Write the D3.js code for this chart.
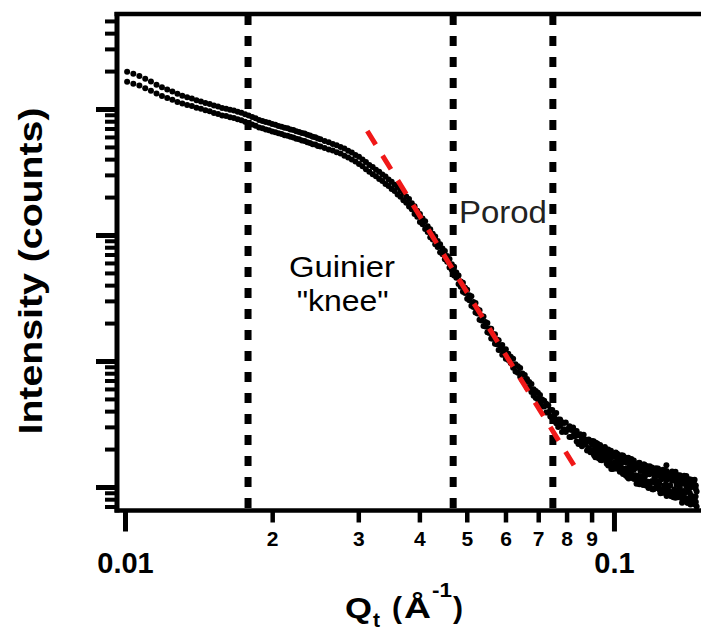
<!DOCTYPE html>
<html>
<head>
<meta charset="utf-8">
<script src="https://cdn.jsdelivr.net/npm/d3@7"></script>
<style>
  html, body { margin: 0; padding: 0; background: #fff; }
  svg { display: block; }
</style>
</head>
<body>
<div id="chart"></div>
<script>
// ---------------- DATA ----------------
// Scattering vector Q_t (1/Å), shared by both measured curves
const q = [
  0.0101,0.0104,0.0107,0.0110,0.0113,0.0116,0.0119,0.0122,0.0125,0.0128,
  0.0131,0.0134,0.0137,0.0140,0.0143,0.0146,0.0149,0.0152,0.0155,0.0158,
  0.0161,0.0164,0.0167,0.0170,0.0173,0.0176,0.0179,0.0182,0.0185,0.0188,
  0.0191,0.0194,0.0197,0.0200,0.0203,0.0206,0.0209,0.0212,0.0215,0.0218,
  0.0221,0.0224,0.0227,0.0230,0.0233,0.0236,0.0239,0.0242,0.0245,0.0248,
  0.0251,
  0.0256,0.0261,0.0266,0.0271,0.0276,0.0281,0.0286,0.0291,0.0296,0.0301,
  0.0306,0.0311,0.0316,0.0321,0.0326,0.0331,0.0336,0.0341,0.0346,0.0351,
  0.0356,0.0361,0.0366,0.0371,0.0376,0.0381,0.0386,0.0391,0.0396,0.0401,
  0.0406,0.0411,0.0416,0.0421,0.0426,0.0431,0.0436,0.0441,0.0446,0.0451,
  0.0456,0.0461,0.0466,0.0471,0.0476,0.0481,0.0486,0.0491,0.0496,0.0501,
  0.0506,0.0511,0.0516,0.0521,0.0526,0.0531,0.0536,0.0541,0.0546,0.0551,
  0.0556,0.0561,0.0566,0.0571,0.0576,0.0581,0.0586,0.0591,0.0596,0.0601,
  0.0608,0.0615,0.0622,0.0629,0.0636,0.0643,0.0650,0.0657,0.0664,0.0671,
  0.0678,0.0685,0.0692,0.0699,0.0706,0.0713,0.0720,0.0727,0.0734,0.0741,
  0.0748,0.0755,0.0762,0.0769,0.0776,0.0783,0.0790,0.0797,0.0804,0.0811,
  0.0818,0.0825,0.0832,0.0839,0.0846,0.0853,0.0860,0.0867,0.0874,0.0881,
  0.0888,0.0895,0.0902,0.0909,0.0916,0.0923,0.0930,0.0937,0.0944,0.0951,
  0.0958,0.0965,0.0972,0.0979,0.0986,0.0993,0.1000,0.1007,0.1014,0.1021,
  0.1028,0.1035,0.1042,0.1049,0.1056,0.1063,0.1070,0.1077,0.1084,0.1091,
  0.1098,0.1105,0.1112,0.1119,0.1126,0.1133,0.1140,0.1147,0.1154,0.1161,
  0.1168,0.1175,0.1182,0.1189,0.1196,0.1203,0.1210,0.1217,0.1224,0.1231,
  0.1238,0.1245,0.1252,0.1259,0.1266,0.1273,0.1280,0.1287,0.1294,0.1301,
  0.1308,0.1315,0.1322,0.1329,0.1336,0.1343,0.1350,0.1357,0.1364,0.1371,
  0.1378,0.1385,0.1392,0.1399,0.1406,0.1413,0.1420,0.1427,0.1434,0.1441,
  0.1448,0.1455,0.1462,0.1469,0.1476
];

// Intensity (counts), upper curve
const intensityA = [
  19750,19010,18300,17370,16520,15610,14880,14270,13760,13200,
  12760,12380,12090,11740,11480,11180,10970,10670,10450,10200,
  10060,9850,9710,9490,9330,9080,8890,8630,8440,8180,
  8040,7880,7780,7610,7500,7340,7240,7110,7020,6880,
  6800,6670,6580,6450,6380,6240,6160,6030,5970,5830,
  5760,
  5570,5440,5280,5160,5000,4860,4670,4520,4320,4170,
  3970,3800,3590,3460,3290,3170,3020,2910,2760,2650,
  2500,2400,2260,2160,2020,1930,1790,1690,1560,1470,
  1355,1285,1175,1110,1025,975,895,845,780,745,
  680,645,586,560,503,478,428,418,381,368,
  333,326,294,288,258,253,228,226,204,200,
  181,180,163,163,148,146,133,134,122,124,
  114,108,104,94.3,90.7,87.8,79.6,77.5,71.9,68.1,
  65.8,59.8,57.8,56.1,53.8,49.5,48.4,45.7,44.6,41.0,
  40.8,35.4,38.7,34.3,34.4,32.6,32.2,32.5,28.7,30.3,
  28.3,29.7,25.3,27.8,25.7,26.2,24.0,26.0,21.6,23.4,
  23.8,22.7,19.7,23.1,20.4,21.6,16.9,21.5,19.3,20.1,
  16.5,18.8,19.5,16.8,19.4,17.3,15.3,17.3,18.1,15.0,
  17.5,15.5,13.1,17.3,15.9,14.1,17.1,14.6,12.3,15.3,
  16.2,12.4,14.2,15.2,11.6,13.4,14.4,10.35,15.1,12.5,
  13.7,11.0,13.7,13.9,11.1,13.0,13.9,9.8,12.3,14.0,
  10.7,13.0,11.5,9.6,13.5,12.0,14.9,9.7,12.1,12.85,
  8.55,11.2,12.4,9.6,13.2,10.4,8.55,11.7,12.4,8.9,
  10.85,12.0,7.9,10.9,12.2,9.2,11.1,8.1,9.9,11.4,
  7.5,10.3,11.4,8.4,9.2
];

// Intensity (counts), lower curve
const intensityB = [
  16480,15890,15370,14640,13990,13250,12700,12230,11850,11370,
  11060,10760,10560,10240,10030,9770,9580,9310,9130,8900,
  8790,8600,8480,8290,8150,7920,7760,7530,7370,7140,
  7030,6880,6790,6640,6550,6410,6330,6200,6130,6010,
  5940,5820,5750,5630,5570,5450,5380,5260,5220,5090,
  5030,
  4910,4780,4680,4530,4430,4260,4130,3970,3830,3660,
  3520,3330,3180,3030,2920,2780,2680,2540,2450,2320,
  2230,2100,2010,1890,1800,1680,1600,1470,1395,1270,
  1215,1115,1055,960,920,845,803,730,702,643,
  613,553,531,478,457,408,389,355,346,312,
  303,274,268,243,238,213,210,190,188,169,
  167,151,150,137,136,122,123,112,113,104,
  102,96,88.4,82.6,80.6,75.0,70.2,68.8,61.8,60.5,
  56.7,52.9,50.9,49.5,46.2,43.6,43.5,39.1,39.0,36.2,
  35.3,38.3,32.1,30.0,30.8,27.3,28.7,27.3,28.6,24.9,
  24.9,25.5,26.8,23.0,21.9,22.6,21.1,23.0,23.8,19.5,
  20.4,18.9,23.2,18.9,17.2,19.0,20.4,17.9,16.3,18.6,
  20.8,16.8,15.5,18.3,15.5,14.3,18.2,15.7,14.4,16.6,
  13.2,17.9,15.8,13.9,12.4,16.9,13.0,13.5,15.9,11.8,
  13.7,14.85,10.6,12.3,15.55,11.0,13.5,12.2,13.7,10.9,
  14.6,10.1,12.6,11.0,14.3,9.6,11.9,13.1,10.2,11.15,
  13.5,8.9,12.2,13.7,10.3,9.0,11.3,12.65,9.15,10.3,
  11.8,13.3,9.15,11.9,8.2,10.9,12.4,9.25,10.0,11.1,
  7.5,9.3,12.3,8.15,10.1,7.5,10.3,11.5,7.25,8.5,
  10.4,8.1,7.3,9.7,7.0
];

// Interleaved readings in the dense, noisy high-Q tail
const qTail = [
  0.09035,0.09105,0.09175,0.09245,0.09315,0.09385,0.09455,0.09525,0.09595,0.09665,
  0.09735,0.09805,0.09875,0.09945,0.10015,0.10085,0.10155,0.10225,0.10295,0.10365,
  0.10435,0.10505,0.10575,0.10645,0.10715,0.10785,0.10855,0.10925,0.10995,0.11065,
  0.11135,0.11205,0.11275,0.11345,0.11415,0.11485,0.11555,0.11625,0.11695,0.11765,
  0.11835,0.11905,0.11975,0.12045,0.12115,0.12185,0.12255,0.12325,0.12395,0.12465,
  0.12535,0.12605,0.12675,0.12745,0.12815,0.12885,0.12955,0.13025,0.13095,0.13165,
  0.13235,0.13305,0.13375,0.13445,0.13515,0.13585,0.13655,0.13725,0.13795,0.13865,
  0.13935,0.14005,0.14075,0.14145,0.14215,0.14285,0.14355,0.14425,0.14495,0.14565,
  0.14635,0.14705
];
const tailIntensityA = [
  21.7,17.9,22.4,18.8,20.8,16.4,18.9,20.4,16.5,18.3,
  19.8,16.0,17.3,13.9,17.9,18.8,14.0,16.4,14.0,17.2,
  17.8,13.4,15.7,12.0,16.0,13.6,16.7,11.9,14.8,12.3,
  14.8,10.7,15.5,12.0,14.7,11.0,13.1,14.7,10.4,13.4,
  14.6,11.0,13.6,9.6,12.5,14.1,10.2,12.65,9.5,13.2,
  12.5,9.0,13.3,10.4,13.4,9.3,11.7,12.6,8.45,12.0,
  12.2,9.1,12.6,8.5,10.8,12.2,9.2,11.3,8.0,10.7,
  11.8,8.1,10.6,7.5,10.9,9.0,11.1,8.2,11.3,7.4,
  10.0,7.6
];
const tailIntensityB = [
  19.1,22.2,17.4,22.1,18.7,20.2,16.7,17.3,20.2,15.3,
  14.8,18.4,13.9,18.3,15.6,14.0,18.4,14.1,17.6,14.2,
  12.7,16.8,14.0,16.8,11.7,15.6,12.7,16.1,11.6,14.2,
  11.8,15.2,10.5,13.9,11.0,15.1,11.9,10.3,14.0,9.8,
  10.3,13.5,9.6,13.9,10.8,9.8,13.7,10.0,12.4,9.0,
  9.2,12.9,10.0,13.3,8.5,11.7,9.3,10.3,12.6,8.6,
  8.3,11.55,8.8,11.8,8.3,9.5,12.2,8.6,11.6,8.7,
  8.9,11.3,7.75,10.7,8.1,11.4,8.6,10.5,7.8,10.8,
  7.8,10.3
];

// Region boundaries (vertical dashed guides), Q in 1/Å
const guideQ = [0.01785, 0.0469, 0.0750];

// Porod power-law fit line (red dashed), end points
const porodQ = [0.0313, 0.0844];
const porodI = [6690, 13.2];

// Axis ticks
const xTickValues = [0.01,0.02,0.03,0.04,0.05,0.06,0.07,0.08,0.09,0.1];
const xTickLabels = ["0.01","2","3","4","5","6","7","8","9","0.1"];
const xMajor = [0.01, 0.1];

// Annotations (anchored in data coordinates)
const annotationText = ["Guinier", "\"knee\"", "Porod"];
const annotationQ = [0.02778, 0.02787, 0.04820];
const annotationI = [464, 249, 1245];

// ---------------- DRAWING ----------------
const W = 701, H = 633;
const svg = d3.select("#chart").append("svg").attr("width", W).attr("height", H);

const x = d3.scaleLog().domain([0.009585, 0.15353]).range([116, 705]);
const y = d3.scaleLog().domain([6.568, 56760]).range([510, 14]);

const boldFont = "'Liberation Sans', Arial, Helvetica, sans-serif";

// vertical dashed guide lines
svg.append("g").selectAll("line").data(guideQ).join("line")
  .attr("x1", d => x(d)).attr("x2", d => x(d))
  .attr("y1", 15).attr("y2", 510)
  .attr("stroke", "#000").attr("stroke-width", 7)
  .attr("stroke-dasharray", "10,11");

// data points
const pts = [];
q.forEach((qq, i) => {
  pts.push({q: qq, I: intensityA[i]});
  pts.push({q: qq, I: intensityB[i]});
});
qTail.forEach((qq, i) => {
  pts.push({q: qq, I: tailIntensityA[i]});
  pts.push({q: qq, I: tailIntensityB[i]});
});
svg.append("g").selectAll("circle").data(pts).join("circle")
  .attr("cx", d => x(d.q)).attr("cy", d => y(d.I))
  .attr("r", 3).attr("fill", "#000");

// Porod fit line
const porod = porodQ.map((qq, i) => ({q: qq, I: porodI[i]}));
svg.append("path").datum(porod)
  .attr("d", d3.line().x(d => x(d.q)).y(d => y(d.I)))
  .attr("fill", "none").attr("stroke", "#f01818").attr("stroke-width", 5)
  .attr("stroke-dasharray", "16,13");

// X axis
const gx = svg.append("g").attr("transform", "translate(0,510.5)")
  .call(d3.axisBottom(x).tickValues(xTickValues)
        .tickFormat((d, i) => xTickLabels[i]).tickSizeOuter(0));
gx.select(".domain").remove();
const isXMajor = d => xMajor.some(m => Math.abs(m - d) < 1e-9);
gx.selectAll(".tick line")
  .attr("stroke", "#000")
  .attr("stroke-width", d => isXMajor(d) ? 5 : 4.5)
  .attr("y2", d => isXMajor(d) ? 21 : 12);
gx.selectAll(".tick text")
  .attr("dy", null)
  .attr("y", d => isXMajor(d) ? 62.5 : 35)
  .attr("fill", "#000")
  .style("font-family", boldFont)
  .style("font-weight", "bold")
  .style("font-size", d => isXMajor(d) ? "29px" : "21px");

// Y axis (log ticks, unlabeled)
const yTicks = y.ticks();
const isYMajor = d => Math.abs(Math.log10(d) - Math.round(Math.log10(d))) < 1e-9;
const gy = svg.append("g").attr("transform", "translate(117,0)")
  .call(d3.axisLeft(y).tickValues(yTicks).tickFormat(() => "").tickSizeOuter(0));
gy.select(".domain").remove();
gy.selectAll(".tick line")
  .attr("stroke", "#000")
  .attr("stroke-width", d => isYMajor(d) ? 5 : 4)
  .attr("x2", d => isYMajor(d) ? -21 : -12);

// Frame lines
svg.append("line").attr("x1", 117).attr("x2", 117).attr("y1", 12).attr("y2", 512.5)
  .attr("stroke", "#000").attr("stroke-width", 5);
svg.append("line").attr("x1", 114.5).attr("x2", 705).attr("y1", 14).attr("y2", 14)
  .attr("stroke", "#000").attr("stroke-width", 4.4);
svg.append("line").attr("x1", 114.5).attr("x2", 705).attr("y1", 510.5).attr("y2", 510.5)
  .attr("stroke", "#000").attr("stroke-width", 4.4);

// Annotations
const annLen = [106, 92, 88];
svg.append("g").selectAll("text").data(annotationText).join("text")
  .attr("x", (d, i) => x(annotationQ[i])).attr("y", (d, i) => y(annotationI[i]))
  .attr("text-anchor", (d, i) => i === 2 ? "start" : "middle")
  .attr("fill", (d, i) => i === 2 ? "#222" : "#000")
  .attr("textLength", (d, i) => annLen[i]).attr("lengthAdjust", "spacingAndGlyphs")
  .style("font-family", boldFont)
  .style("font-size", (d, i) => i === 2 ? "31px" : "30px")
  .text(d => d);

// Y title
svg.append("text")
  .attr("transform", "translate(42,271) rotate(-90)")
  .attr("text-anchor", "middle")
  .attr("textLength", 327).attr("lengthAdjust", "spacingAndGlyphs")
  .style("font-family", boldFont).style("font-weight", "bold").style("font-size", "34px")
  .text("Intensity (counts)");

// X title: Q_t (Å^-1)
const xt = svg.append("g").style("font-family", boldFont).style("font-weight", "bold");
xt.append("text").attr("x", 345).attr("y", 618).style("font-size", "30px")
  .attr("textLength", 27).attr("lengthAdjust", "spacingAndGlyphs").text("Q");
xt.append("text").attr("x", 373).attr("y", 627).style("font-size", "21px").text("t");
xt.append("text").attr("x", 392).attr("y", 618).style("font-size", "30px").text("(");
xt.append("text").attr("x", 404).attr("y", 618).style("font-size", "30px")
  .attr("textLength", 27).attr("lengthAdjust", "spacingAndGlyphs").text("Å");
xt.append("text").attr("x", 432).attr("y", 597).style("font-size", "21px")
  .attr("textLength", 20).attr("lengthAdjust", "spacingAndGlyphs").text("-1");
xt.append("text").attr("x", 453).attr("y", 618).style("font-size", "30px").text(")");
</script>
</body>
</html>
